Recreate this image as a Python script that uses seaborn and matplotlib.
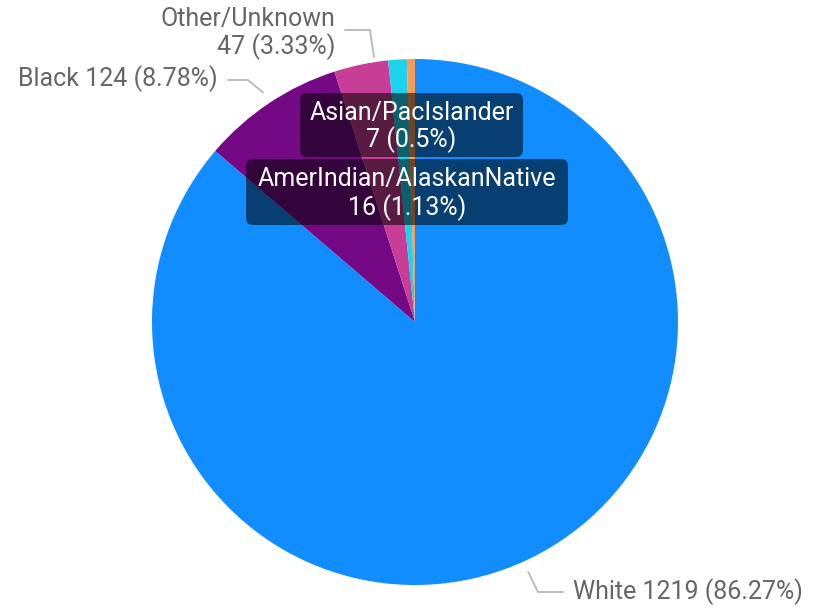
import matplotlib
matplotlib.use("Agg")
import matplotlib.pyplot as plt
from matplotlib.patches import FancyBboxPatch
import numpy as np
import seaborn as sns

sns.set_theme(style="white")
plt.rcParams['font.family'] = ['Roboto', 'DejaVu Sans']

# data, in drawing order (clockwise from 12 o'clock)
groups = ['White', 'Black', 'Other/Unknown', 'AmerIndian/AlaskanNative', 'Asian/PacIslander']
counts = [1219, 124, 47, 16, 7]
pct_labels = ['86.27%', '8.78%', '3.33%', '1.13%', '0.5%']
colors = ['#118DFF', '#750985', '#C83D96', '#1CD3EE', '#FF9A55']

W, H, dpi = 823, 608, 100
fig = plt.figure(figsize=(W / dpi, H / dpi), dpi=dpi)

# pie geometry in pixels
cx, cy, r = 415, 322, 263
ax = fig.add_axes([(cx - r) / W, (H - cy - r) / H, 2 * r / W, 2 * r / H])
ax.pie(counts, colors=colors, startangle=90, counterclock=False,
       wedgeprops=dict(linewidth=0))
ax.set_xlim(-1, 1)
ax.set_ylim(-1, 1)
ax.set_aspect('equal')
ax.axis('off')

# overlay in pixel coords for labels
ov = fig.add_axes([0, 0, 1, 1])
ov.set_xlim(0, W)
ov.set_ylim(H, 0)
ov.axis('off')
ov.patch.set_alpha(0)

total = sum(counts)
fracs = np.array(counts) / total
mids = 90 - 360 * (np.cumsum(fracs) - fracs / 2)

def edge_point(i, rr=1.03):
    a = np.deg2rad(mids[i])
    return cx + r * rr * np.cos(a), cy - r * rr * np.sin(a)

grey = '#666666'
line_c = '#BBBBBB'
fs = 18
fs_box = 18

# White label
px, py = edge_point(0)
ov.plot([px, 538, 563], [py + 4, 592, 592], color=line_c, lw=1.4)
ov.text(573, 592, f"{groups[0]} {counts[0]} ({pct_labels[0]})", color=grey,
        fontsize=fs, ha='left', va='center')

# Black label
px, py = edge_point(1)
ov.plot([228, 248, px - 2], [80, 80, py - 4], color=line_c, lw=1.4)
ov.text(218, 79, f"{groups[1]} {counts[1]} ({pct_labels[1]})", color=grey,
        fontsize=fs, ha='right', va='center')

# Other label
px, py = edge_point(2)
ov.plot([345, 370, 374], [30, 30, 57], color=line_c, lw=1.4)
ov.text(335, 19, groups[2], color=grey, fontsize=fs, ha='right', va='center')
ov.text(335, 47, f"{counts[2]} ({pct_labels[2]})", color=grey,
        fontsize=fs, ha='right', va='center')

# tooltip-like boxes
boxes = [(4, 300, 93, 223, 64), (3, 246, 159, 322, 66)]
for i, bx, by, bw, bh in boxes:
    ov.add_patch(FancyBboxPatch((bx, by), bw, bh,
                                boxstyle="round,pad=0,rounding_size=7",
                                facecolor='black', alpha=0.55, edgecolor='none'))
    mx = bx + bw / 2
    ov.text(mx, by + bh * 0.31, groups[i], color='white', fontsize=fs_box,
            ha='center', va='center')
    ov.text(mx, by + bh * 0.73, f"{counts[i]} ({pct_labels[i]})", color='white',
            fontsize=fs_box, ha='center', va='center')

fig.savefig('out.png', dpi=dpi)
